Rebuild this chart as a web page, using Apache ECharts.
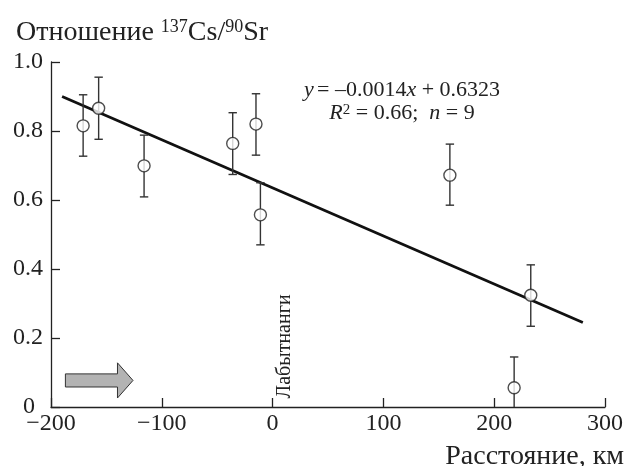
<!DOCTYPE html>
<html>
<head>
<meta charset="utf-8">
<script src="https://cdn.jsdelivr.net/npm/echarts@6/dist/echarts.min.js"></script>
<style>
html,body{margin:0;padding:0;background:#fff;}
#c{width:627px;height:466px;}
</style>
</head>
<body>
<div id="c"></div>
<script>
// ---- data ----
const distKm   = [-171, -157, -116, -36, -15, -11, 160, 233, 218];
const ratio    = [0.815, 0.866, 0.699, 0.764, 0.820, 0.557, 0.672, 0.324, 0.056];
const errLow   = [0.727, 0.776, 0.609, 0.674, 0.730, 0.470, 0.585, 0.234, -0.034];
const errHigh  = [0.905, 0.956, 0.788, 0.853, 0.908, 0.650, 0.762, 0.412, 0.145];
const fitX     = [-190, 280];
const fitY     = [0.900, 0.245];
const xTicks   = [-200, -100, 0, 100, 200, 300];
const yTicks   = [0, 0.2, 0.4, 0.6, 0.8, 1.0];
const arrowX   = [-187, -140, -140, -126, -140, -140, -187];
const arrowY   = [0.096, 0.096, 0.128, 0.077, 0.026, 0.058, 0.058];

const FONT = '"Liberation Serif", "DejaVu Serif", serif';
const INK = '#222';

const chart = echarts.init(document.getElementById('c'), null, {renderer: 'canvas'});

const points = distKm.map((x, i) => [x, ratio[i]]);
const errs = distKm.map((x, i) => [x, errLow[i], errHigh[i]]);
const fitLine = fitX.map((x, i) => [x, fitY[i]]);

const option = {
  animation: false,
  backgroundColor: '#fff',
  grid: {left: 51, right: 22, top: 62, bottom: 59, containLabel: false},
  xAxis: {
    type: 'value', min: xTicks[0], max: xTicks[xTicks.length - 1], interval: 100,
    axisLine: {show: true, onZero: false, lineStyle: {color: INK, width: 1.3}},
    axisTick: {show: true, inside: true, length: 9, lineStyle: {color: INK, width: 1.3}},
    splitLine: {show: false},
    axisLabel: {
      color: INK, fontFamily: FONT, fontSize: 24, margin: 5,
      formatter: v => (v < 0 ? '\u2212' + Math.abs(v) : String(v))
    }
  },
  yAxis: {
    type: 'value', min: yTicks[0], max: yTicks[yTicks.length - 1], interval: 0.2,
    axisLine: {show: true, onZero: false, lineStyle: {color: INK, width: 1.3}},
    axisTick: {show: true, inside: true, length: 9, lineStyle: {color: INK, width: 1.3}},
    splitLine: {show: false},
    axisLabel: {
      color: INK, fontFamily: FONT, fontSize: 24, margin: 8,
      formatter: v => (v === 0 ? '{z|0}' : v.toFixed(1)),
      rich: {z: {fontFamily: FONT, fontSize: 24, color: INK, padding: [0, 8, 0, 0]}}
    }
  },
  title: {
    text: '{a|Отношение }{s|137}{a|Cs/}{s|90}{a|Sr}',
    left: 11, top: 10,
    textStyle: {
      fontWeight: 'normal',
      rich: {
        a: {fontFamily: FONT, fontSize: 28, fontWeight: 'normal', color: INK, lineHeight: 32, verticalAlign: 'bottom'},
        s: {fontFamily: FONT, fontSize: 18, fontWeight: 'normal', color: INK, lineHeight: 32, verticalAlign: 'bottom', padding: [0, 0, 11, 0]}
      }
    }
  },
  series: [
    {
      type: 'line', data: fitLine, showSymbol: false, symbol: 'none',
      lineStyle: {color: '#111', width: 2.8}, z: 2, silent: true
    },
    {
      type: 'custom', data: errs, clip: true, z: 3,
      renderItem: function (params, api) {
        const x = api.value(0);
        const lo = api.coord([x, api.value(1)]);
        const hi = api.coord([x, api.value(2)]);
        const hw = 4.2;
        const style = {stroke: '#333', lineWidth: 1.4, fill: null};
        return {
          type: 'group',
          children: [
            {type: 'line', shape: {x1: lo[0], y1: lo[1], x2: hi[0], y2: hi[1]}, style: style},
            {type: 'line', shape: {x1: hi[0] - hw, y1: hi[1], x2: hi[0] + hw, y2: hi[1]}, style: style},
            {type: 'line', shape: {x1: lo[0] - hw, y1: lo[1], x2: lo[0] + hw, y2: lo[1]}, style: style}
          ]
        };
      },
      encode: {x: 0, y: [1, 2]}
    },
    {
      type: 'scatter', data: points, symbol: 'circle', symbolSize: 12, z: 4,
      itemStyle: {color: '#fff', borderColor: '#222', borderWidth: 1.4}
    }
  ]
};
chart.setOption(option);

// decorations positioned through the axes
const arrowPts = arrowX.map((x, i) => chart.convertToPixel({gridIndex: 0}, [x, arrowY[i]]));
const labPos = chart.convertToPixel({gridIndex: 0}, [11, 0.025]);

chart.setOption({
  graphic: [
    {
      type: 'polygon', shape: {points: arrowPts},
      style: {fill: '#b3b3b3', stroke: '#333', lineWidth: 1}, z: 5
    },
    {
      type: 'text', x: labPos[0], y: labPos[1], rotation: Math.PI / 2, z: 5,
      style: {text: 'Лабытнанги', font: '20px ' + FONT, fill: INK, align: 'left', verticalAlign: 'middle'}
    },
    {
      type: 'text', x: 402, y: 78, z: 5,
      style: {
        text: '{i|y} {n|= \u20130.0014}{i|x}{n| + 0.6323}\n{i|R}{s|2}{n| = 0.66;  }{i|n}{n| = 9}',
        align: 'center', verticalAlign: 'top',
        rich: {
          n: {fontFamily: FONT, fontSize: 22, fill: INK, lineHeight: 23, verticalAlign: 'bottom'},
          i: {fontFamily: FONT, fontSize: 22, fontStyle: 'italic', fill: INK, lineHeight: 23, verticalAlign: 'bottom'},
          s: {fontFamily: FONT, fontSize: 15, fill: INK, lineHeight: 23, verticalAlign: 'bottom', padding: [0, 0, 6, 0]}
        }
      }
    },
    {
      type: 'text', x: 624, y: 457, z: 5,
      style: {text: 'Расстояние, км', font: '28px ' + FONT, fill: INK, align: 'right', verticalAlign: 'middle'}
    }
  ]
});
</script>
</body>
</html>
